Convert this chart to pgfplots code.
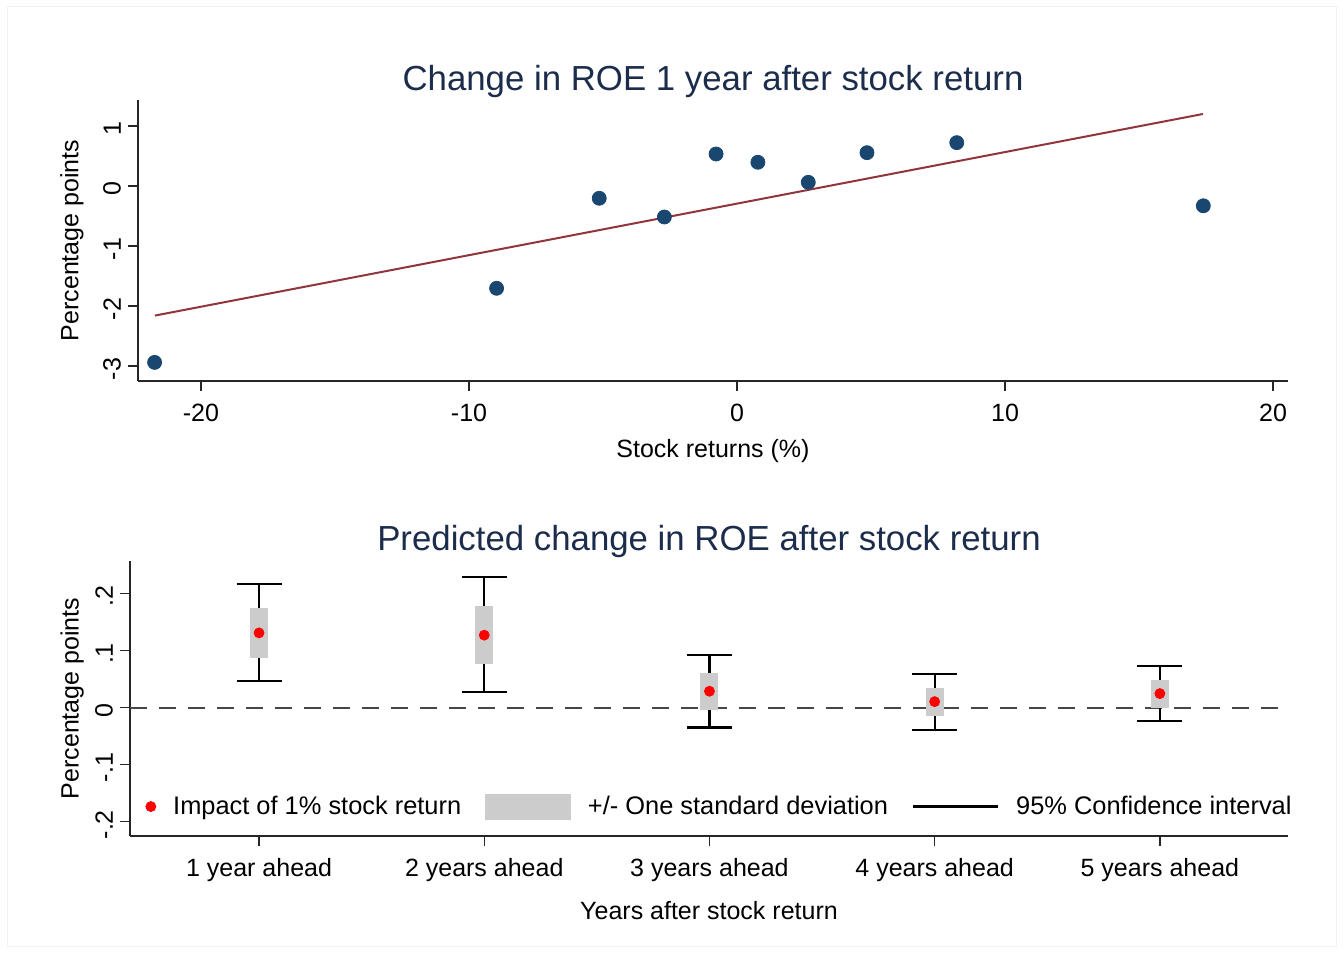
\documentclass[border=0pt]{standalone}
\usepackage{pgfplots}
\pgfplotsset{compat=1.18}
\usepackage{fontspec}
\setmainfont{Liberation Sans}
\definecolor{stnavy}{RGB}{26,71,111}
\definecolor{stmaroon}{RGB}{144,53,59}
\definecolor{titlecol}{RGB}{28,45,76}
\definecolor{boxgray}{RGB}{204,204,204}
\newcommand{\normfont}{\fontsize{12.5bp}{15bp}\selectfont}
\newcommand{\legfont}{\fontsize{12.7bp}{15bp}\selectfont}
\newcommand{\titfont}{\fontsize{17.4bp}{20bp}\selectfont}
\pgfplotsset{
  stbase/.style={
    scale only axis,
    anchor=south west,
    axis x line*=bottom,
    axis y line*=left,
    axis line style={line width=0.7bp, black!85},
    tick style={line width=0.7bp, black!85},
    tick align=outside,
    major tick length=5bp,
    /pgf/number format/assume math mode=true,
    tick label style={font=\normfont},
    label style={font=\normfont},
    title style={font=\titfont, text=titlecol},
    yticklabel style={rotate=90, anchor=south, xshift=-1.5bp},
    xticklabel style={yshift=-2.8bp},
    clip=false,
  }
}
\begin{document}
\begin{tikzpicture}
\useasboundingbox (0,0) rectangle (671.5bp,477bp);
\draw[black!5, line width=0.5bp] (3.5bp,3.5bp) rectangle (668bp,473.5bp);

% ---------- Top panel ----------
\begin{axis}[stbase,
  at={(69bp,286.5bp)},
  width=575bp, height=140.5bp,
  xmin=-22.35, xmax=20.56,
  ymin=-3.25, ymax=1.433,
  xtick={-20,-10,0,10,20},
  xticklabels={-20,-10,0,10,20},
  ytick={-3,-2,-1,0,1},
  yticklabels={-3,-2,-1,0,1},
  xlabel={Stock returns (\%)},
  ylabel={Percentage points},
  xlabel style={at={(axis description cs:0.5,-0.249)}, anchor=center},
  ylabel style={at={(axis description cs:-0.0574,0.5)}, anchor=center},
  title={Change in ROE 1 year after stock return},
  title style={at={(axis description cs:0.5,1.025)}, anchor=center},
]
\addplot[stmaroon, line width=1bp] coordinates {(-21.72,-2.16) (17.39,1.20)};
\addplot[only marks, mark=*, mark size=3.5bp, mark options={fill=stnavy, draw=stnavy}]
  coordinates {
  (-21.73,-2.94) (-8.97,-1.705) (-5.14,-0.205) (-2.71,-0.517) (-0.78,0.533)
  (0.78,0.395) (2.66,0.061) (4.85,0.555) (8.20,0.722) (17.40,-0.33)};
\end{axis}

% ---------- Bottom panel ----------
\begin{axis}[stbase,
  at={(65bp,59bp)},
  width=579bp, height=137.5bp,
  xmin=-0.573, xmax=4.569,
  ymin=-0.225, ymax=0.257,
  xtick={0,1,2,3,4},
  xticklabels={1 year ahead,2 years ahead,3 years ahead,4 years ahead,5 years ahead},
  ytick={-0.2,-0.1,0,0.1,0.2},
  yticklabels={-.2,-.1,0,.1,.2},
  xlabel={Years after stock return},
  ylabel={Percentage points},
  xlabel style={at={(axis description cs:0.5,-0.272)}, anchor=center},
  ylabel style={at={(axis description cs:-0.050,0.5)}, anchor=center},
  title={Predicted change in ROE after stock return},
  title style={at={(axis description cs:0.5,1.029)}, anchor=center},
  legend columns=3,
  legend style={draw=none, fill=none, at={(axis description cs:0.013,0.107)}, anchor=west,
    font=\legfont,
    /tikz/every even column/.append style={column sep=10bp},
    /tikz/every odd column/.append style={column sep=6.5bp},
    inner sep=0pt, row sep=0pt},
]
% zero line
\addplot[black!72, line width=1bp, dash pattern=on 8.5bp off 6bp, forget plot]
  coordinates {(-0.573,0) (4.569,0)};
% 95% CI
\addplot[black, line width=1.1bp, forget plot, draw=none, mark=none,
  error bars/.cd, y dir=both, y explicit,
  error bar style={black, line width=1.1bp},
  error mark options={rotate=90, mark size=11.25bp, line width=1.1bp, black}]
  coordinates {
  (0,0.131) += (0,0.086) -= (0,0.0842)
  (1,0.127) += (0,0.102) -= (0,0.0995)
  (2,0.0287) += (0,0.0633) -= (0,0.0637)
  (3,0.0105) += (0,0.0491) -= (0,0.0491)
  (4,0.0246) += (0,0.0484) -= (0,0.0474)};
% +/- one SD box
\addplot[forget plot, draw=none, mark=none,
  error bars/.cd, y dir=both, y explicit,
  error bar style={boxgray, line width=9bp},
  error mark=none]
  coordinates {
  (0,0.131) += (0,0.0434) -= (0,0.0434)
  (1,0.127) += (0,0.051) -= (0,0.051)
  (2,0.0287) += (0,0.032) -= (0,0.032)
  (3,0.0105) += (0,0.0245) -= (0,0.0245)
  (4,0.0246) += (0,0.0245) -= (0,0.0245)};
% point estimates
\addplot[only marks, mark=*, mark size=2.5bp, mark options={fill=red, draw=red}, forget plot]
  coordinates {(0,0.131) (1,0.127) (2,0.0287) (3,0.0105) (4,0.0246)};
% legend
\addlegendimage{legend image code/.code={\path (0bp,0bp) rectangle (5bp,0bp); \fill[red] (2.5bp,0bp) circle (2.5bp);}}
\addlegendentry{Impact of 1\% stock return}
\addlegendimage{legend image code/.code={\fill[boxgray] (0bp,-6.25bp) rectangle (42.5bp,6.25bp);}}
\addlegendentry{+/- One standard deviation}
\addlegendimage{legend image code/.code={\draw[black, line width=1.1bp] (0bp,0bp) -- (42.5bp,0bp);}}
\addlegendentry{95\% Confidence interval}
\end{axis}
\end{tikzpicture}
\end{document}
